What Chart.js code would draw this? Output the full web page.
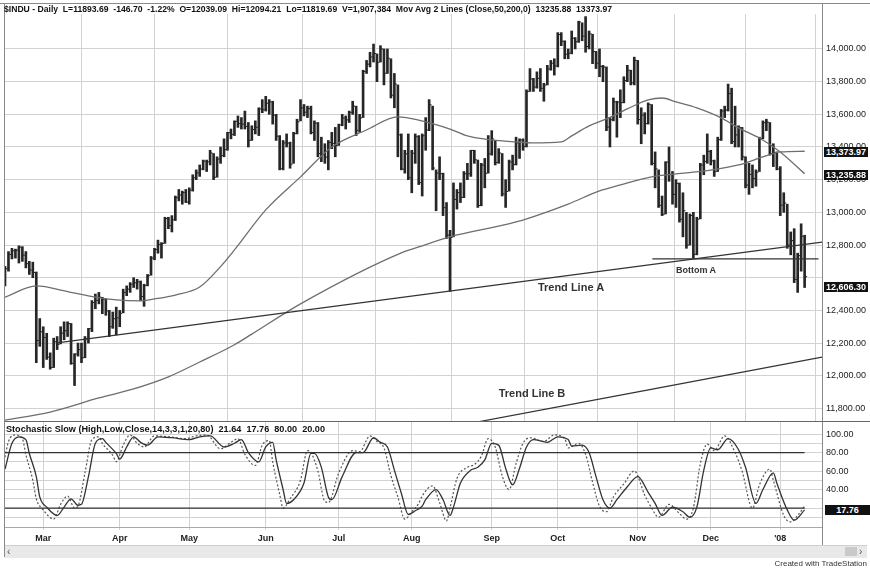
<!DOCTYPE html>
<html>
<head>
<meta charset="utf-8">
<title>$INDU - Daily</title>
<script src="https://cdn.jsdelivr.net/npm/chart.js@4.4.1/dist/chart.umd.min.js"></script>
<style>
    body { margin: 0; background: #fff; }
    #tela { position: relative; width: 870px; height: 569px; overflow: hidden; font-family: 'Liberation Sans', Arial, sans-serif; color: #222; }
    canvas { position: absolute; left: 0; }
    .linha { position: absolute; background: #8a8a8a; }
    .rotulo { position: absolute; font-weight: bold; white-space: pre; color: #333; line-height: 1; }
    .centro { transform: translate(-50%, -50%); }
    .caixa { position: absolute; background: #111; color: #fff; font-size: 9px; font-weight: bold; text-align: center; line-height: 10px; height: 10px; }
</style>
</head>
<body>
<div id="tela">
    <canvas id="priceChart" width="870" height="407" style="top:14px"></canvas>
    <canvas id="stochChart" width="870" height="124" style="top:422px"></canvas>

    <!-- frame -->
    <div class="linha" style="left:0;top:3px;width:870px;height:1px"></div>
    <div class="linha" style="left:4px;top:3px;width:1px;height:554px"></div>
    <div class="linha" style="left:822px;top:3px;width:1px;height:542px"></div>
    <div class="linha" style="left:5px;top:421px;width:865px;height:1px;background:#666"></div>

    <!-- headers -->
    <div class="rotulo" id="cabecalho" style="left:4px;top:5px;font-size:9px;color:#111">$INDU - Daily  L=11893.69  -146.70  -1.22%  O=12039.09  Hi=12094.21  Lo=11819.69  V=1,907,384  Mov Avg 2 Lines (Close,50,200,0)  13235.88  13373.97</div>
    <div class="rotulo" id="tituloEstoc" style="left:6px;top:425px;font-size:9px;color:#111">Stochastic Slow (High,Low,Close,14,3,3,1,20,80)  21.64  17.76  80.00  20.00</div>

    <!-- notes on the chart -->
    <div class="rotulo centro" style="left:571px;top:287px;font-size:11px">Trend Line A</div>
    <div class="rotulo centro" style="left:696px;top:270px;font-size:9px">Bottom A</div>
    <div class="rotulo centro" style="left:532px;top:393px;font-size:11px">Trend Line B</div>

    <!-- last value boxes -->
    <div class="caixa" style="left:824px;top:147px;width:44px">13,373.97</div>
    <div class="caixa" style="left:824px;top:170px;width:44px">13,235.88</div>
    <div class="caixa" style="left:824px;top:282px;width:44px">12,606.30</div>
    <div class="caixa" style="left:825px;top:505px;width:45px">17.76</div>

    <!-- scroll bar -->
    <div style="position:absolute;left:5px;top:545px;width:862px;height:12px;background:#e9e9e9;border-top:1px solid #cfcfcf"></div>
    <div style="position:absolute;left:7px;top:546px;font-size:10px;color:#555">&lsaquo;</div>
    <div style="position:absolute;left:845px;top:547px;width:12px;height:9px;background:#c9c9c9"></div>
    <div style="position:absolute;left:859px;top:546px;font-size:10px;color:#555">&rsaquo;</div>
    <div style="position:absolute;right:3px;top:559px;font-size:8px;color:#333;white-space:nowrap">Created with TradeStation</div>
</div>

<script>
// --- Data (one bar per trading day, 13 Feb 2007 .. 11 Jan 2008) ---
const monthLabels = ['Mar', 'Apr', 'May', 'Jun', 'Jul', 'Aug', 'Sep', 'Oct', 'Nov', 'Dec', "'08"];
const monthStart = [11, 33, 53, 75, 96, 117, 140, 159, 182, 203, 223];

const highs = [
    12670, 12760, 12780, 12775, 12795, 12790, 12760, 12700, 12695, 12635, 12350,
    12300, 12260, 12140, 12230, 12240, 12300, 12330, 12330, 12320, 12135, 12200, 12200, 12240, 12290, 12460, 12500, 12510, 12480, 12470, 12400, 12390, 12420,
    12400, 12530, 12550, 12570, 12600, 12590, 12580, 12560, 12620, 12730, 12780, 12830, 12815, 12970, 12970, 12980, 13100, 13140, 13130, 13140,
    13150, 13230, 13260, 13290, 13320, 13320, 13380, 13360, 13340, 13400, 13450, 13490, 13510, 13560, 13590, 13580, 13620, 13550, 13530, 13560, 13640, 13690,
    13710, 13690, 13680, 13600, 13470, 13440, 13480, 13430, 13490, 13570, 13690, 13660, 13650, 13650, 13560, 13550, 13460, 13420, 13440, 13490, 13520,
    13540, 13600, 13590, 13620, 13680, 13650, 13600, 13870, 13930, 13980, 14030, 13970, 14020, 14000, 14000, 13940, 13850, 13780, 13480, 13380, 13480,
    13380, 13480, 13470, 13480, 13580, 13690, 13650, 13260, 13340, 13240, 13060, 12890, 13180, 13140, 13180, 13250, 13300, 13380, 13380, 13320, 13300, 13330, 13470,
    13500, 13440, 13390, 13360, 13200, 13320, 13350, 13460, 13450, 13450, 13750, 13880, 13820, 13860, 13880, 13790, 13900, 13930, 13940,
    14100, 14100, 14050, 14000, 14110, 14070, 14170, 14160, 14198, 14110, 14090, 13985, 14000, 13900, 13890, 13580, 13700, 13680, 13750, 13830, 13900, 13870, 13950,
    13930, 13640, 13610, 13670, 13660, 13370, 13260, 13100, 13310, 13400, 13250, 13200, 13180, 13120, 13000, 12990, 13000, 12970, 13300, 13350, 13480,
    13380, 13320, 13460, 13630, 13650, 13785, 13760, 13650, 13530, 13520, 13340, 13300, 13290, 13260, 13460, 13560, 13570, 13550, 13420, 13370,
    13280, 13120, 13050, 12880, 12900, 12750, 12930, 12860
];

const lows = [
    12550, 12640, 12715, 12720, 12690, 12700, 12660, 12620, 12600, 12080, 12180,
    12050, 12100, 12040, 12050, 12160, 12195, 12220, 12240, 12070, 11940, 12120, 12080, 12110, 12200, 12270, 12410, 12440, 12380, 12370, 12240, 12290, 12250,
    12300, 12385, 12490, 12510, 12540, 12530, 12460, 12425, 12550, 12615, 12710, 12750, 12720, 12810, 12900, 12880, 12950, 13070, 13050, 13060,
    13050, 13130, 13200, 13220, 13260, 13250, 13290, 13200, 13215, 13300, 13340, 13380, 13450, 13470, 13520, 13510, 13510, 13400, 13440, 13480, 13470, 13610,
    13620, 13600, 13540, 13440, 13260, 13260, 13400, 13270, 13300, 13480, 13560, 13590, 13580, 13480, 13440, 13340, 13310, 13300, 13260, 13390, 13340,
    13410, 13530, 13510, 13550, 13600, 13470, 13490, 13580, 13850, 13890, 13920, 13800, 13920, 13780, 13850, 13700, 13640, 13340, 13260, 13240, 13200,
    13120, 13300, 13170, 13100, 13380, 13500, 13260, 13010, 13200, 12980, 12840, 12517, 12850, 13020, 13060, 13090, 13200, 13220, 13300, 13030, 13040, 13150, 13240,
    13350, 13290, 13300, 13100, 13030, 13130, 13260, 13290, 13330, 13380, 13400, 13740, 13740, 13760, 13740, 13680, 13780, 13870, 13840,
    13890, 14020, 13940, 13940, 13970, 14000, 14040, 14050, 13980, 14000, 13910, 13880, 13830, 13800, 13500, 13400, 13560, 13460, 13580, 13670, 13800, 13780, 13780,
    13540, 13420, 13480, 13540, 13290, 13150, 13030, 12980, 12990, 13190, 13050, 13030, 12940, 12850, 12780, 12800, 12720, 12740, 12960, 13230, 13300,
    13290, 13220, 13250, 13440, 13580, 13620, 13420, 13400, 13400, 13320, 13150, 13110, 13150, 13160, 13250, 13450, 13500, 13350, 13280, 13260,
    12980, 13000, 12780, 12740, 12570, 12510, 12640, 12540
];

const closes = [
    12655, 12742, 12765, 12768, 12787, 12738, 12686, 12647, 12632, 12216, 12269,
    12234, 12114, 12050, 12208, 12192, 12261, 12276, 12319, 12076, 12133, 12160, 12110, 12226, 12288, 12448, 12461, 12481, 12469, 12397, 12300, 12349, 12354,
    12382, 12510, 12530, 12560, 12569, 12574, 12485, 12553, 12612, 12720, 12773, 12804, 12809, 12962, 12919, 12954, 13090, 13106, 13121, 13063,
    13136, 13212, 13241, 13265, 13313, 13309, 13363, 13215, 13326, 13347, 13384, 13488, 13477, 13557, 13543, 13540, 13526, 13441, 13507, 13521, 13633, 13628,
    13668, 13676, 13595, 13466, 13267, 13425, 13424, 13295, 13482, 13554, 13639, 13613, 13635, 13489, 13546, 13360, 13352, 13338, 13428, 13422, 13409,
    13535, 13577, 13566, 13612, 13650, 13502, 13578, 13862, 13907, 13951, 13972, 13918, 14000, 13851, 13943, 13717, 13785, 13474, 13265, 13358, 13212,
    13362, 13463, 13182, 13469, 13504, 13658, 13271, 13240, 13237, 13029, 12861, 12846, 13079, 13121, 13091, 13236, 13236, 13379, 13322, 13042, 13289, 13239, 13358,
    13449, 13305, 13363, 13113, 13128, 13308, 13292, 13425, 13443, 13403, 13739, 13816, 13767, 13820, 13759, 13779, 13878, 13913, 13896,
    14088, 14047, 13968, 13974, 14066, 14044, 14165, 14079, 14015, 14093, 13985, 13913, 13893, 13889, 13522, 13567, 13676, 13675, 13672, 13807, 13870, 13792, 13930,
    13568, 13595, 13543, 13661, 13300, 13266, 13043, 12988, 13307, 13231, 13110, 13177, 12958, 13010, 12799, 12981, 12743, 12958, 13289, 13312, 13372,
    13315, 13249, 13445, 13620, 13626, 13727, 13433, 13474, 13518, 13340, 13167, 13232, 13207, 13246, 13451, 13549, 13552, 13360, 13366, 13265,
    13044, 13057, 12800, 12827, 12589, 12735, 12853, 12606
];

// moving averages: [bar index, value]
const ma50 = [
    [0, 12481], [9, 12550], [18, 12515], [26, 12481], [32, 12464], [39, 12458], [43, 12470], [49, 12494],
    [56, 12543], [62, 12668], [66, 12770], [75, 13015], [85, 13217], [94, 13400], [104, 13504], [113, 13584],
    [119, 13565], [128, 13510], [133, 13468], [140, 13443], [147, 13431], [152, 13425], [160, 13431], [163, 13468],
    [168, 13529], [173, 13572], [179, 13633], [185, 13688], [189, 13700], [193, 13676], [199, 13639], [206, 13578],
    [211, 13517], [217, 13455], [223, 13370], [230, 13236]
];
const ma200 = [
    [0, 11728], [13, 11778], [27, 11864], [37, 11919], [47, 11993], [56, 12084], [66, 12190], [71, 12255],
    [85, 12440], [114, 12752], [119, 12788], [128, 12850], [147, 12941], [162, 13051], [171, 13131], [177, 13168],
    [186, 13217], [196, 13241], [203, 13259], [211, 13290], [218, 13339], [223, 13370], [230, 13374]
];

// hand drawn lines
const trendLineA = [[15, 12201], [235, 12818]];
const trendLineB = [[135.9, 11717], [235, 12114]];
const bottomA = [[186.2, 12715], [234, 12715]];

// stochastic: dotted (SlowK) and solid (SlowD)
const stochK = [
    [0, 75], [1, 92], [3, 99], [5, 95], [6, 78], [8, 50], [9, 30], [11, 18], [14, 8], [16, 24], [18, 33], [20, 20], [21, 22],
    [23, 58], [25, 94], [27, 97], [28, 90], [31, 77], [32, 70], [34, 88], [36, 99], [38, 90], [40, 86], [43, 98], [47, 97],
    [52, 95], [55, 98], [58, 99], [62, 84], [65, 91], [67, 95], [69, 78], [72, 66], [74, 88], [76, 93], [77, 70], [79, 35],
    [80, 20], [82, 30], [85, 50], [87, 82], [88, 80], [90, 60], [92, 27], [93, 26], [96, 58], [100, 82], [102, 81], [105, 98],
    [107, 92], [109, 85], [111, 55], [113, 32], [115, 8], [117, 16], [119, 25], [120, 33], [123, 44], [125, 26], [127, 6],
    [128, 20], [130, 52], [133, 64], [135, 67], [137, 76], [139, 95], [141, 86], [143, 55], [145, 40], [147, 68], [149, 90],
    [151, 96], [155, 92], [158, 99], [161, 95], [162, 85], [165, 90], [167, 78], [169, 48], [171, 22], [173, 16], [175, 32],
    [178, 46], [181, 60], [184, 34], [186, 20], [188, 10], [191, 24], [194, 14], [196, 8], [198, 20], [200, 68], [202, 89],
    [204, 82], [207, 98], [210, 80], [212, 60], [215, 20], [217, 45], [220, 62], [221, 50], [224, 12], [226, 5], [228, 12], [230, 22]
];
const stochD = [
    [0, 62], [2, 90], [4, 97], [6, 94], [7, 79], [9, 54], [10, 32], [12, 21], [15, 12], [17, 21], [19, 30], [21, 23], [22, 24],
    [24, 54], [26, 90], [28, 95], [29, 91], [32, 79], [33, 73], [35, 86], [37, 97], [39, 91], [41, 88], [44, 97], [48, 96],
    [53, 94], [56, 97], [59, 98], [63, 86], [66, 90], [68, 94], [70, 80], [73, 70], [75, 86], [77, 91], [78, 72], [80, 40],
    [81, 25], [83, 29], [86, 47], [88, 79], [89, 79], [91, 64], [93, 32], [94, 29], [97, 54], [101, 80], [103, 80], [106, 96],
    [108, 91], [110, 86], [112, 61], [114, 36], [116, 13], [118, 17], [120, 22], [121, 29], [124, 40], [126, 29], [128, 12],
    [129, 21], [131, 47], [134, 61], [136, 64], [138, 72], [140, 90], [142, 88], [144, 63], [146, 45], [148, 63], [150, 86],
    [152, 94], [156, 91], [159, 97], [162, 94], [163, 87], [166, 88], [168, 80], [170, 54], [172, 29], [174, 20], [176, 29],
    [179, 43], [182, 54], [185, 37], [187, 25], [189, 12], [192, 21], [195, 16], [197, 10], [199, 21], [201, 61], [203, 85],
    [205, 83], [208, 95], [211, 83], [213, 64], [216, 25], [218, 40], [221, 58], [222, 47], [225, 18], [227, 7], [230, 18]
];
const stochLevels = [80, 20];

// axis ticks
const priceTicks = [11800, 12000, 12200, 12400, 12600, 12800, 13000, 13200, 13400, 13600, 13800, 14000];
const priceTicksHidden = [12600];
const stochTicks = [10, 20, 30, 40, 50, 60, 70, 80, 90, 100];

// --- Global charts ---
let priceChart = null;
let stochChart = null;

// --- Helpers ---
function toPoints(pares) {
    return pares.map(p => ({ x: p[0], y: p[1] }));
}

function formatNumber(v) {
    return v.toLocaleString('en-US', { minimumFractionDigits: 2, maximumFractionDigits: 2 });
}

function lineDataset(pares, cor, largura, extra) {
    return Object.assign({
        type: 'line',
        data: toPoints(pares),
        borderColor: cor,
        borderWidth: largura,
        pointRadius: 0,
        fill: false,
        tension: 0.4,
        cubicInterpolationMode: 'monotone'
    }, extra || {});
}

// no extra padding: the plot area must fill the whole canvas band
function noPadding(s) {
    s.paddingTop = 0;
    s.paddingBottom = 0;
    s.paddingLeft = 0;
    s.paddingRight = 0;
}

function monthGrid(extra) {
    return Object.assign({
        type: 'linear',
        min: 0,
        max: 235,
        offset: false,
        afterBuildTicks: s => { s.ticks = monthStart.map(v => ({ value: v })); }
    }, extra);
}

// --- Price panel ---
function initializePriceChart() {
    const ctx = document.getElementById('priceChart');
    if (priceChart) priceChart.destroy();

    const bars = highs.map((h, i) => ({ x: i, y: [lows[i], h] }));
    const closeTicks = closes.map((c, i) => ({ x: i, y: c }));

    priceChart = new Chart(ctx, {
        type: 'bar',
        data: {
            datasets: [
                lineDataset(trendLineA, '#333', 1.2, { tension: 0, order: 0 }),
                lineDataset(trendLineB, '#333', 1.2, { tension: 0, order: 0 }),
                lineDataset(bottomA, '#333', 1.2, { tension: 0, order: 0 }),
                lineDataset(ma50, '#6e6e6e', 1.3, { order: 1 }),
                lineDataset(ma200, '#6e6e6e', 1.3, { order: 1 }),
                {
                    type: 'scatter',
                    data: closeTicks,
                    pointStyle: 'dash',
                    pointRadius: 2.5,
                    pointHoverRadius: 2.5,
                    borderColor: '#222',
                    borderWidth: 1,
                    order: 2
                },
                {
                    type: 'bar',
                    data: bars,
                    backgroundColor: '#262626',
                    barThickness: 2,
                    order: 3
                }
            ]
        },
        options: {
            responsive: false,
            animation: false,
            layout: { autoPadding: false, padding: { left: 5, right: 0, top: 0, bottom: 0 } },
            plugins: { legend: { display: false }, tooltip: { enabled: false } },
            scales: {
                x: monthGrid({
                    ticks: { display: false },
                    grid: { color: '#d2d2d2', drawTicks: false },
                    border: { display: false },
                    afterFit: s => { s.height = 0; noPadding(s); }
                }),
                y: {
                    position: 'right',
                    min: 11723,
                    max: 14214,
                    afterBuildTicks: s => { s.ticks = priceTicks.map(v => ({ value: v })); },
                    afterFit: s => { s.width = 48; noPadding(s); },
                    ticks: {
                        autoSkip: false,
                        padding: 4,
                        color: '#222',
                        font: { size: 9 },
                        callback: v => priceTicksHidden.includes(v) ? '' : formatNumber(v)
                    },
                    grid: { color: '#d2d2d2', drawTicks: false },
                    border: { display: false }
                }
            }
        }
    });
}

// --- Stochastic panel ---
function initializeStochChart() {
    const ctx = document.getElementById('stochChart');
    if (stochChart) stochChart.destroy();

    const levelSets = stochLevels.map(v =>
        lineDataset([[0, v], [230, v]], '#333', 1.3, { tension: 0, order: 0 }));

    stochChart = new Chart(ctx, {
        type: 'line',
        data: {
            datasets: levelSets.concat([
                lineDataset(stochD, '#333', 1.3, { order: 1 }),
                lineDataset(stochK, '#555', 1.2, { borderDash: [2, 2], order: 2 })
            ])
        },
        options: {
            responsive: false,
            animation: false,
            layout: { autoPadding: false, padding: { left: 5, right: 0, top: 0, bottom: 0 } },
            plugins: { legend: { display: false }, tooltip: { enabled: false } },
            scales: {
                x: monthGrid({
                    ticks: {
                        autoSkip: false,
                        maxRotation: 0,
                        padding: 3,
                        color: '#222',
                        font: { size: 9, weight: 'bold' },
                        callback: v => monthLabels[monthStart.indexOf(v)] || ''
                    },
                    grid: { color: '#d2d2d2', drawTicks: true, tickLength: 3 },
                    border: { display: true, color: '#aaa' },
                    afterFit: s => { s.height = 19; noPadding(s); }
                }),
                y: {
                    position: 'right',
                    min: -0.5,
                    max: 113,
                    afterBuildTicks: s => { s.ticks = stochTicks.map(v => ({ value: v })); },
                    afterFit: s => { s.width = 48; noPadding(s); },
                    ticks: {
                        autoSkip: false,
                        padding: 4,
                        color: '#222',
                        font: { size: 9 },
                        callback: v => v % 20 === 0 ? v.toFixed(2) : ''
                    },
                    grid: { color: '#d2d2d2', drawTicks: false },
                    border: { display: false }
                }
            }
        }
    });
}

// --- Stretch the header texts to the width they have in the picture ---
function fitWidth(id, largura) {
    const el = document.getElementById(id);
    const w = el.getBoundingClientRect().width;
    el.style.transformOrigin = 'left top';
    el.style.transform = 'scaleX(' + (largura / w) + ')';
}

function startApp() {
    Chart.defaults.font.family = "'Liberation Sans', Arial, sans-serif";
    initializePriceChart();
    initializeStochChart();
    fitWidth('cabecalho', 608);
    fitWidth('tituloEstoc', 319);
}

window.onload = startApp;
</script>
</body>
</html>
